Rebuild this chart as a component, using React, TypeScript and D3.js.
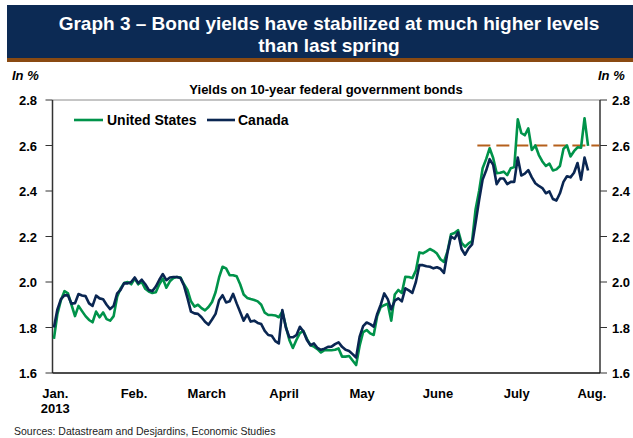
import React from "react";
import * as d3 from "d3";

// US 10-year yields, one value per business day (Jan 2 – Aug 2, 2013)
const usYields = [
  1.75, 1.86, 1.92, 1.96, 1.95, 1.90, 1.85, 1.895, 1.872, 1.85,
  1.833, 1.823, 1.87, 1.845, 1.866, 1.837, 1.83, 1.85, 1.935, 1.972,
  1.996, 2.0, 1.99, 2.015, 1.99, 2.0, 1.97, 1.958, 1.952, 1.955,
  1.99, 2.015, 1.975, 2.003, 2.017, 2.022, 2.02, 1.99, 1.965, 1.915,
  1.892, 1.9, 1.885, 1.875, 1.89, 1.912, 1.955, 2.02, 2.067, 2.06,
  2.03, 2.03, 2.025, 1.99, 1.945, 1.93, 1.925, 1.921, 1.915, 1.9,
  1.865, 1.855, 1.855, 1.853, 1.845, 1.87, 1.805, 1.745, 1.71, 1.745,
  1.775, 1.785, 1.75, 1.722, 1.716, 1.705, 1.69, 1.7, 1.7, 1.7,
  1.702, 1.708, 1.672, 1.672, 1.675, 1.655, 1.635, 1.72, 1.78, 1.789,
  1.774, 1.767, 1.85, 1.89, 1.898, 1.905, 1.83, 1.945, 1.965, 1.952,
  2.023, 2.022, 2.017, 2.05, 2.13, 2.126, 2.135, 2.145, 2.137, 2.125,
  2.1, 2.088, 2.135, 2.21, 2.215, 2.228, 2.172, 2.155, 2.17, 2.18,
  2.32, 2.4, 2.5, 2.54, 2.588, 2.545, 2.478, 2.48, 2.485, 2.47,
  2.5, 2.505, 2.715, 2.655, 2.645, 2.675, 2.58, 2.6, 2.558, 2.53,
  2.51, 2.52, 2.49, 2.495, 2.51, 2.585, 2.6, 2.552, 2.575, 2.592,
  2.59, 2.72, 2.598,
];

// Canada 10-year yields, same days
const caYields = [
  1.8, 1.88, 1.925, 1.941, 1.941, 1.905, 1.907, 1.947, 1.941, 1.938,
  1.906, 1.895, 1.94, 1.928, 1.924, 1.9, 1.881, 1.895, 1.95, 1.966,
  1.995, 1.994, 2.0, 2.02, 1.995, 2.01, 1.99, 1.965, 1.96, 1.98,
  2.01, 2.035, 2.008, 2.02, 2.022, 2.022, 2.018, 1.985, 1.93, 1.87,
  1.862, 1.86, 1.845, 1.825, 1.812, 1.835, 1.86, 1.92, 1.942, 1.91,
  1.915, 1.948, 1.906, 1.868, 1.83, 1.858, 1.826, 1.83, 1.82, 1.815,
  1.785, 1.767, 1.764, 1.74, 1.73, 1.877, 1.8, 1.757, 1.757, 1.766,
  1.803, 1.782, 1.745, 1.722, 1.73, 1.71, 1.702, 1.707, 1.715, 1.716,
  1.727, 1.735, 1.715, 1.702, 1.697, 1.683, 1.668, 1.76, 1.806, 1.822,
  1.815, 1.804, 1.86, 1.9, 1.95, 1.925, 1.88, 1.918, 1.928, 1.915,
  1.972, 1.963, 1.952, 2.0, 2.075, 2.074, 2.069, 2.067, 2.06, 2.065,
  2.058, 2.04, 2.13, 2.2, 2.19, 2.218, 2.145, 2.12, 2.148, 2.165,
  2.26, 2.36, 2.45, 2.49, 2.54, 2.515, 2.43, 2.455, 2.455, 2.43,
  2.44, 2.44, 2.547, 2.468, 2.476, 2.492, 2.46, 2.434, 2.422, 2.413,
  2.39, 2.398, 2.365, 2.358, 2.39, 2.44, 2.465, 2.46, 2.48, 2.523,
  2.45, 2.547, 2.49,
];

const seriesNames = ["United States", "Canada"];
const seriesColors = ["#00934a", "#0a2652"];
const monthLabels = ["Jan.", "Feb.", "March", "April", "May", "June", "July", "Aug."];
const monthTickIdx = [0.4, 22.8, 43.5, 65.5, 87.7, 109.3, 131.7, 153.1];
const yTicks = [1.6, 1.8, 2.0, 2.2, 2.4, 2.6, 2.8];
const refLevel = 2.6;
const refSpan = [120.5, 155.2];

const FONT = "'Liberation Sans', Arial, Helvetica, sans-serif";

export default function App() {
  const W = 633, H = 438;
  const left = 52.5, right = 600, top = 100, bottom = 373;
  const x = d3.scaleLinear().domain([-0.4, 155.4]).range([left, right]);
  const y = d3.scaleLinear().domain([1.6, 2.8]).range([bottom, top]);
  const line = d3
    .line<number>()
    .x((_, i) => x(i))
    .y((d) => y(d));
  const series = [usYields, caYields];

  return (
    <svg
      width={W}
      height={H}
      viewBox={`0 0 ${W} ${H}`}
      style={{ position: "absolute", left: 0, top: 0, background: "#fff" }}
      fontFamily={FONT}
    >
      <rect x={0} y={0} width={W} height={H} fill="#fff" />
      {/* Title banner */}
      <rect x={7} y={5} width={W - 7} height={53} fill="#0c2a54" />
      <rect x={7} y={58} width={W - 7} height={4} fill="#8a4a12" />
      <text x={329} y={30} textAnchor="middle" fill="#fff" fontWeight="bold" fontSize={19}>
        Graph 3 – Bond yields have stabilized at much higher levels
      </text>
      <text x={329} y={52} textAnchor="middle" fill="#fff" fontWeight="bold" fontSize={19}>
        than last spring
      </text>

      {/* Units */}
      <text x={12} y={80} fontWeight="bold" fontStyle="italic" fontSize={13} fill="#000">
        In %
      </text>
      <text x={598} y={80} fontWeight="bold" fontStyle="italic" fontSize={13} fill="#000">
        In %
      </text>
      <text x={326} y={94} textAnchor="middle" fontWeight="bold" fontSize={13} fill="#000">
        Yields on 10-year federal government bonds
      </text>

      {/* Frame */}
      <line x1={left} x2={right} y1={top} y2={top} stroke="#8c8c8c" strokeWidth={1} />
      <line x1={left} x2={left} y1={top} y2={bottom} stroke="#333" strokeWidth={1.5} />
      <line x1={right} x2={right} y1={top} y2={bottom} stroke="#333" strokeWidth={1.5} />
      <line x1={left} x2={right} y1={bottom} y2={bottom} stroke="#111" strokeWidth={1.5} />

      {/* Y ticks & labels */}
      {yTicks.map((t) => (
        <g key={t}>
          <line x1={left - 7} x2={left} y1={y(t)} y2={y(t)} stroke="#333" strokeWidth={1} />
          <line x1={right} x2={right + 7} y1={y(t)} y2={y(t)} stroke="#333" strokeWidth={1} />
          <text x={37} y={y(t) + 5} textAnchor="end" fontWeight="bold" fontSize={13}>
            {t.toFixed(1)}
          </text>
          <text x={612} y={y(t) + 5} textAnchor="start" fontWeight="bold" fontSize={13}>
            {t.toFixed(1)}
          </text>
        </g>
      ))}

      {/* X labels */}
      {monthLabels.map((m, i) => (
        <text key={m} x={x(monthTickIdx[i])} y={398} textAnchor="middle" fontWeight="bold" fontSize={13}>
          {m}
        </text>
      ))}
      <text x={x(monthTickIdx[0])} y={413} textAnchor="middle" fontWeight="bold" fontSize={13}>
        2013
      </text>

      {/* Reference dashed line */}
      <line
        x1={x(refSpan[0])}
        x2={x(refSpan[1])}
        y1={y(refLevel)}
        y2={y(refLevel)}
        stroke="#b5601c"
        strokeWidth={2}
        strokeDasharray="13 6"
      />

      {/* Series */}
      {series.map((s, k) => (
        <path
          key={k}
          d={line(s) || ""}
          fill="none"
          stroke={seriesColors[k]}
          strokeWidth={2.6}
          strokeLinejoin="round"
        />
      ))}

      {/* Legend */}
      <line x1={74} x2={103} y1={120} y2={120} stroke={seriesColors[0]} strokeWidth={2.6} />
      <text x={107} y={125} fontWeight="bold" fontSize={14}>{seriesNames[0]}</text>
      <line x1={207} x2={235} y1={120} y2={120} stroke={seriesColors[1]} strokeWidth={2.6} />
      <text x={238} y={125} fontWeight="bold" fontSize={14}>{seriesNames[1]}</text>

      {/* Source */}
      <text x={14} y={435} fontSize={10.5} fill="#222">
        Sources: Datastream and Desjardins, Economic Studies
      </text>
    </svg>
  );
}
